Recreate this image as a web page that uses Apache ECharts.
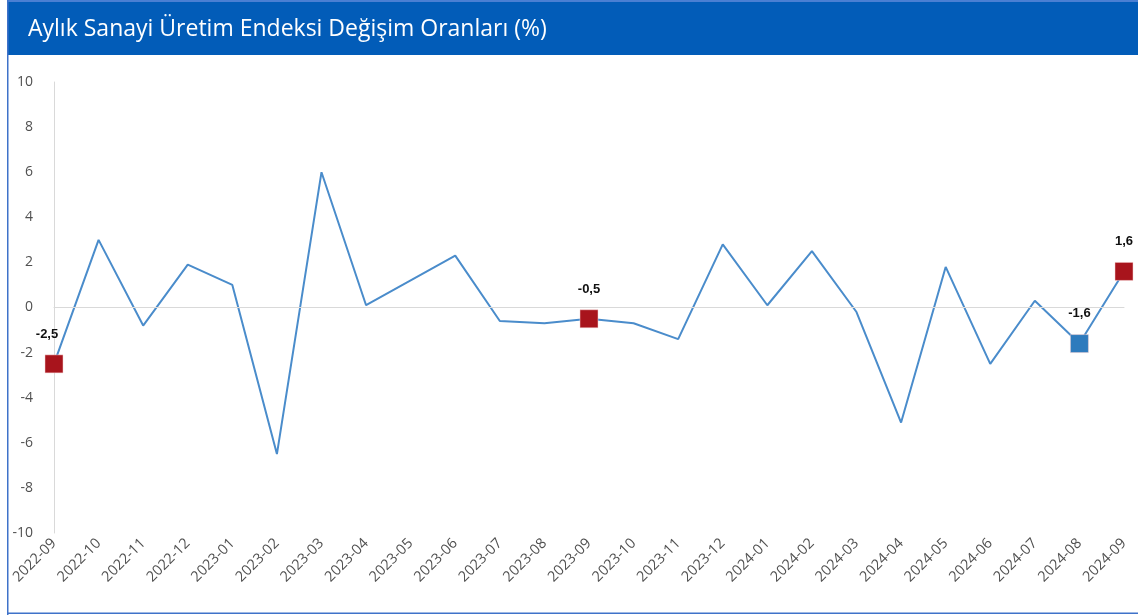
<!DOCTYPE html>
<html>
<head>
<meta charset="utf-8">
<script src="https://cdn.jsdelivr.net/npm/echarts@6/dist/echarts.min.js"></script>
<style>
	html, body { margin: 0; padding: 0; background: #fff; }
	#chart { width: 1138px; height: 615px; }
</style>
</head>
<body>
<div id="chart"></div>
<script>
// aylar
var months = ['2022-09', '2022-10', '2022-11', '2022-12', '2023-01', '2023-02', '2023-03', '2023-04',
	'2023-05', '2023-06', '2023-07', '2023-08', '2023-09', '2023-10', '2023-11', '2023-12',
	'2024-01', '2024-02', '2024-03', '2024-04', '2024-05', '2024-06', '2024-07', '2024-08', '2024-09'];
// aylık değişim (%)
var changes = [-2.5, 3.0, -0.8, 1.9, 1.0, -6.5, 6.0, 0.1, 1.2, 2.3, -0.6, -0.7, -0.5, -0.7, -1.4, 2.8,
	0.1, 2.5, -0.2, -5.1, 1.8, -2.5, 0.3, -1.6, 1.6];
// işaretli noktalar
var redMonths = ['2022-09', '2023-09', '2024-09'];
var blueMonths = ['2024-08'];

var fmt = function (v) {
	return Number(v).toFixed(1).replace('.', ',');
};

var labelStyle = {
	show: true,
	position: 'top',
	distance: 14,
	fontFamily: 'Liberation Sans',
	fontWeight: 'bold',
	fontSize: 13,
	color: '#111',
	formatter: function (p) { return fmt(p.value[1]); }
};

var squareSeries = function (list, color) {
	return {
		type: 'scatter',
		symbol: 'rect',
		symbolSize: 18,
		z: 5,
		itemStyle: { color: color, opacity: 1, borderColor: '#f4d0d0', borderWidth: 0.5 },
		label: labelStyle,
		data: list.map(function (m) {
			var o = { value: [m, changes[months.indexOf(m)]] };
			if (m === '2022-09') o.label = { offset: [-7, 0] };
			return o;
		})
	};
};

var chart = echarts.init(document.getElementById('chart'));
var option = {
	animation: false,
	title: {
		text: 'Aylık Sanayi Üretim Endeksi Değişim Oranları (%)',
		left: 23,
		top: 13,
		textStyle: { color: '#fff', fontSize: 23, fontWeight: 'normal', fontFamily: 'Open Sans' }
	},
	graphic: [
		{ type: 'rect', z: 0, shape: { x: 7, y: 0, width: 1131, height: 55 }, style: { fill: '#025cb8' } },
		{ type: 'rect', z: 0, shape: { x: 7, y: 0, width: 1131, height: 2 }, style: { fill: '#4a7fd3' } },
		{ type: 'rect', z: 0, shape: { x: 7, y: 0, width: 1.5, height: 615 }, style: { fill: '#3f72c9' } },
		{ type: 'rect', z: 0, shape: { x: 7, y: 612.5, width: 1131, height: 1.5 }, style: { fill: '#3f72c9' } }
	],
	grid: { left: 54, right: 14, top: 82, bottom: 82 },
	xAxis: {
		type: 'category',
		data: months,
		boundaryGap: false,
		axisLine: { lineStyle: { color: '#d9d9d9' } },
		axisTick: { show: false },
		axisLabel: {
			rotate: 45,
			interval: 0,
			margin: 8,
			color: '#505050',
			fontSize: 14.5,
			fontFamily: 'Open Sans'
		}
	},
	yAxis: {
		type: 'value',
		min: -10,
		max: 10,
		interval: 2,
		axisLine: { show: true, lineStyle: { color: '#d9d9d9' } },
		axisTick: { show: false },
		splitLine: { show: false },
		axisLabel: { color: '#505050', fontSize: 14, fontFamily: 'Open Sans', margin: 21 }
	},
	series: [
		{
			type: 'line',
			data: changes,
			symbol: 'none',
			lineStyle: { color: '#4a8ccb', width: 2 },
			markLine: {
				silent: true,
				symbol: 'none',
				label: { show: false },
				lineStyle: { color: '#d9d9d9', width: 1, type: 'solid' },
				data: [{ yAxis: 0 }]
			}
		},
		squareSeries(redMonths, '#a8141c'),
		squareSeries(blueMonths, '#2e7bbd')
	]
};
chart.setOption(option);
</script>
</body>
</html>
